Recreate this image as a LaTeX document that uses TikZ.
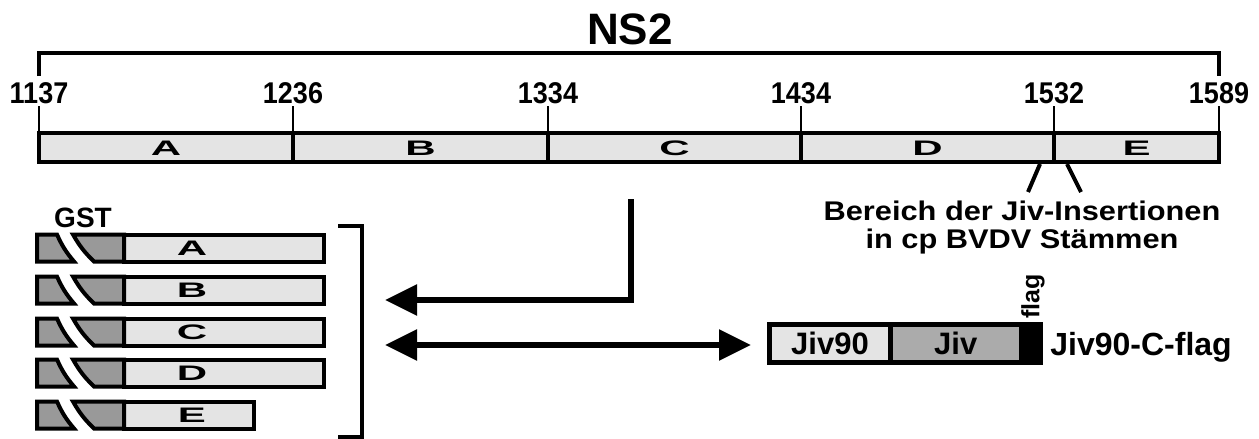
\documentclass[tikz,border=0pt]{standalone}
\usepackage{fontspec}
\setmainfont{Liberation Sans}
\newfontfamily\widefont[FakeStretch=1.14]{Liberation Sans}
\newfontfamily\narrowfont[FakeStretch=0.9]{Liberation Sans}
\newfontfamily\extfont[FakeStretch=2.0]{Liberation Sans}
\usetikzlibrary{arrows.meta,positioning}
\definecolor{ink}{HTML}{000000}
\definecolor{pale}{HTML}{E4E4E4}
\definecolor{gstgray}{HTML}{999999}
\definecolor{jivgray}{HTML}{ABABAB}
\tikzset{
  segbox/.style={draw=ink, fill=pale, line width=2pt},
  gstpiece/.style={draw=ink, fill=gstgray, line width=2pt},
  tick/.style={draw=ink, line width=1.3pt},
  rule/.style={draw=ink, line width=2pt},
  flow/.style={draw=ink, line width=2.8pt, -{Triangle[length=16pt,width=15pt]}},
  both/.style={flow, {Triangle[length=16pt,width=15pt]}-{Triangle[length=16pt,width=15pt]}},
  part/.style={draw=ink, line width=2.5pt, outer sep=0pt, inner sep=0pt,
    minimum height=19pt, font=\bfseries\fontsize{15.5}{16}\selectfont},
  num/.style={inner sep=0pt, font=\narrowfont\bfseries\fontsize{15}{16}\selectfont},
  seglab/.style={inner sep=0pt, font=\extfont\bfseries\fontsize{10.5}{11}\selectfont},
  note/.style={inner sep=0pt, font=\widefont\bfseries\fontsize{13.5}{14}\selectfont},
}
\begin{document}
\begin{tikzpicture}[x=0.5pt, y=-0.5pt]
  \useasboundingbox (0,0) rectangle (1259,439);

  % NS2 overview
  \node[inner sep=0pt, font=\bfseries\fontsize{22}{24}\selectfont] (title) at (630,29) {NS2};
  \draw[rule] (39,76) -- (39,53) -- (1219,53) -- (1219,76);
  \foreach \x/\n in {39/1137, 293/1236, 548/1334, 801/1434, 1054/1532, 1219/1589} {
    \node[num] (n\n) at (\x,93) {\n};
    \draw[tick] (\x,106) -- (\x,133);
  }
  \foreach \xa/\xb/\s in {39/293/A, 293/548/B, 548/801/C, 801/1054/D, 1054/1219/E} {
    \draw[segbox] (\xa,133) rectangle (\xb,162);
    \node[seglab] (seg\s) at ({(\xa+\xb)/2},148) {\s};
  }

  % Jiv insertion region
  \draw[rule] (1040,164) -- (1028,192);
  \draw[rule] (1067,164) -- (1081,192);
  \node[note, anchor=base] (region1) at (1022,220) {Bereich der Jiv-Insertionen};
  \node[note, anchor=base] (region2) at (1022,248) {in cp BVDV Stämmen};

  % GST fusions
  \node[inner sep=0pt, font=\bfseries\fontsize{14}{15}\selectfont] (gst) at (83,218) {GST};
  \foreach \s/\yc/\xe in {A/248/324, B/290/324, C/332/324, D/373/324, E/415/254} {
    \draw[segbox] (124,\yc-13.5) rectangle (\xe,\yc+13.5);
    \draw[gstpiece] (37,\yc-13.5) -- (57,\yc-13.5) to[bend right=8] (74,\yc+13.5) -- (37,\yc+13.5) -- cycle;
    \draw[gstpiece] (73,\yc-13.5) to[bend right=8] (94,\yc+13.5) -- (124,\yc+13.5) -- (124,\yc-13.5) -- cycle;
    \node[seglab] (gst\s) at (192,\yc) {\s};
  }
  \draw[rule] (338,226) -- (362,226) -- (362,437) -- (338,437);

  % Jiv90-C-flag construct
  \node[part, fill=pale, minimum width=60.5pt, anchor=west] (jiv90) at (769.5,343.5) {Jiv90};
  \node[part, fill=jivgray, minimum width=65.25pt, right=0pt of jiv90] (jiv) {Jiv};
  \node[part, fill=ink, minimum width=9.75pt, right=0pt of jiv] (flag) {};
  \node[inner sep=0pt, font=\bfseries\fontsize{12.5}{13}\selectfont, rotate=90, anchor=west] (flaglab) at (1033,319) {flag};
  \node[inner sep=0pt, font=\bfseries\fontsize{16}{18}\selectfont, anchor=base west] (cname) at (1050,355) {Jiv90-C-flag};

  % arrows
  \coordinate (drop) at (631,199);
  \coordinate (back1) at (385,300);
  \coordinate (back2) at (385,345);
  \coordinate (front) at (751,345);
  \draw[flow] (drop) |- (back1);
  \draw[both] (back2) -- (front);
\end{tikzpicture}
\end{document}
